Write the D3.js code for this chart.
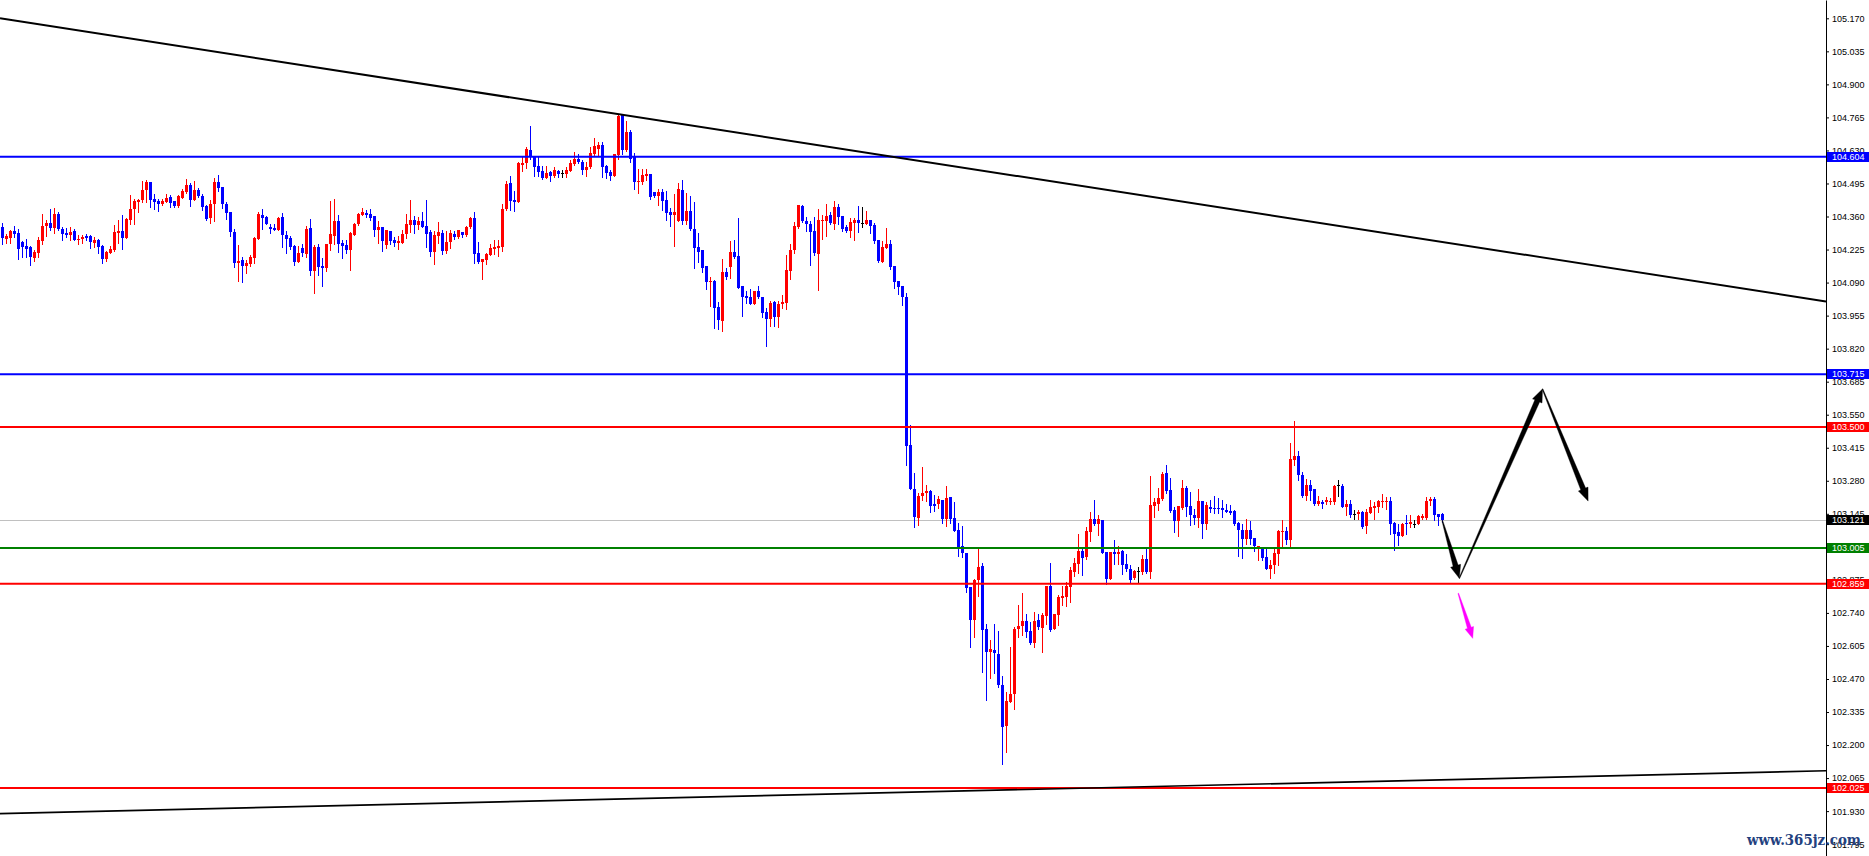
<!DOCTYPE html>
<html>
<head>
<meta charset="utf-8">
<script src="https://cdn.jsdelivr.net/npm/d3@7/dist/d3.min.js"></script>
<style>
html,body{margin:0;padding:0;background:#fff;}
svg{display:block;}
</style>
</head>
<body>
<svg id="chart" width="1869" height="856"></svg>
<script>
// ---------------- DATA ----------------
const opens = [
104.316,104.268,104.272,104.300,104.291,104.255,104.238,104.234,104.191,104.211,
104.260,104.320,104.332,104.312,104.369,104.308,104.291,104.283,104.300,104.264,
104.267,104.279,104.279,104.252,104.263,104.240,104.185,104.210,104.222,104.293,
104.300,104.272,104.345,104.390,104.420,104.426,104.467,104.500,104.430,104.422,
104.411,104.420,104.439,104.422,104.402,104.436,104.459,104.490,104.426,104.470,
104.443,104.402,104.354,104.411,104.500,104.479,104.410,104.377,104.296,104.170,
104.181,104.158,104.166,104.191,104.268,104.365,104.357,104.316,104.313,104.305,
104.357,104.286,104.272,104.240,104.173,104.230,104.208,104.312,104.138,104.236,
104.158,104.150,104.246,104.282,104.341,104.252,104.242,104.223,104.285,104.330,
104.366,104.376,104.369,104.361,104.305,104.316,104.244,104.300,104.263,104.252,
104.252,104.287,104.324,104.345,104.324,104.341,104.320,104.296,104.215,104.279,
104.291,104.219,104.256,104.287,104.276,104.296,104.285,104.316,104.353,104.211,
104.174,104.183,104.203,104.227,104.232,104.236,104.390,104.496,104.426,104.420,
104.571,104.579,104.631,104.603,104.567,104.546,104.518,104.542,104.526,104.546,
104.538,104.534,104.546,104.575,104.595,104.583,104.550,104.563,104.616,104.636,
104.652,104.567,104.542,104.526,104.612,104.775,104.632,104.706,104.603,104.501,
104.501,104.526,104.534,104.459,104.443,104.460,104.426,104.377,104.366,104.342,
104.469,104.342,104.381,104.309,104.236,104.223,104.158,104.093,104.095,103.990,
103.933,104.133,104.154,104.215,104.199,104.076,104.035,104.031,104.003,104.056,
104.031,103.970,103.941,104.011,103.950,104.003,104.007,104.139,104.223,104.316,
104.403,104.342,104.330,104.301,104.207,104.342,104.342,104.366,104.330,104.399,
104.362,104.317,104.300,104.334,104.345,104.335,104.331,104.347,104.324,104.263,
104.174,104.232,104.249,104.157,104.095,104.075,104.031,103.425,103.247,103.128,
103.219,103.232,103.238,103.185,103.185,103.200,103.124,103.215,103.128,103.078,
103.012,102.985,102.846,102.710,102.873,102.931,102.673,102.579,102.587,102.574,
102.444,102.277,102.375,102.407,102.673,102.687,102.706,102.666,102.617,102.710,
102.680,102.729,102.850,102.676,102.732,102.801,102.805,102.846,102.907,102.941,
102.993,102.969,103.071,103.124,103.104,103.119,102.988,102.877,102.988,102.981,
102.993,102.941,102.921,102.883,102.911,102.907,102.962,102.907,103.176,103.187,
103.207,103.312,103.244,103.159,103.116,103.170,103.252,103.176,103.139,103.128,
103.196,103.105,103.172,103.170,103.169,103.169,103.162,103.155,103.157,103.108,
103.078,103.042,103.078,103.046,103.010,103.010,102.969,102.920,102.936,102.982,
103.071,103.075,103.037,103.364,103.380,103.305,103.217,103.262,103.245,103.185,
103.192,103.192,103.192,103.192,103.262,103.257,103.173,103.184,103.146,103.143,
103.153,103.095,103.150,103.170,103.173,103.195,103.195,103.199,103.108,103.070,
103.054,103.108,103.102,103.105,103.105,103.129,103.129,103.196,103.206,103.143,
103.143];

const highs = [
104.334,104.290,104.304,104.320,104.308,104.259,104.267,104.238,104.225,104.276,
104.369,104.347,104.390,104.396,104.380,104.317,104.312,104.316,104.308,104.283,
104.283,104.287,104.283,104.275,104.267,104.244,104.219,104.240,104.324,104.345,
104.365,104.354,104.447,104.430,104.433,104.504,104.511,104.500,104.454,104.433,
104.433,104.450,104.447,104.422,104.447,104.474,104.515,104.496,104.504,104.475,
104.451,104.407,104.426,104.519,104.529,104.479,104.420,104.377,104.308,104.242,
104.193,104.181,104.202,104.276,104.377,104.390,104.361,104.328,104.328,104.358,
104.373,104.300,104.279,104.244,104.240,104.246,104.320,104.349,104.242,104.246,
104.189,104.249,104.422,104.430,104.365,104.263,104.263,104.296,104.334,104.376,
104.394,104.385,104.390,104.361,104.341,104.316,104.304,104.300,104.276,104.279,
104.304,104.369,104.426,104.361,104.358,104.377,104.426,104.304,104.300,104.336,
104.304,104.300,104.304,104.300,104.304,104.296,104.320,104.357,104.377,104.255,
104.187,104.211,104.248,104.264,104.264,104.410,104.504,104.524,104.463,104.583,
104.603,104.644,104.730,104.603,104.608,104.567,104.567,104.546,104.563,104.550,
104.550,104.563,104.591,104.624,104.616,104.591,104.583,104.644,104.681,104.665,
104.665,104.571,104.550,104.616,104.780,104.780,104.750,104.714,104.620,104.554,
104.554,104.554,104.534,104.460,104.473,104.471,104.464,104.395,104.451,104.496,
104.509,104.455,104.443,104.420,104.293,104.223,104.158,104.113,104.099,104.009,
104.185,104.150,104.260,104.264,104.354,104.076,104.056,104.064,104.056,104.076,
104.031,103.986,104.015,104.015,104.015,104.039,104.203,104.246,104.338,104.406,
104.407,104.358,104.342,104.358,104.391,104.366,104.411,104.379,104.422,104.411,
104.362,104.324,104.355,104.355,104.402,104.399,104.381,104.347,104.335,104.263,
104.259,104.311,104.263,104.157,104.095,104.075,104.048,103.507,103.312,103.232,
103.335,103.262,103.244,103.223,103.217,103.200,103.257,103.215,103.193,103.108,
103.094,102.985,102.846,102.880,103.001,102.944,102.696,102.628,102.694,102.666,
102.481,102.416,102.601,102.683,102.771,102.822,102.734,102.703,102.744,102.734,
102.740,102.850,102.944,102.734,102.812,102.850,102.866,102.928,102.965,103.061,
103.010,103.091,103.153,103.200,103.139,103.119,102.988,102.988,103.037,103.012,
102.996,102.982,102.935,102.914,102.928,102.976,103.001,103.298,103.211,103.252,
103.315,103.343,103.290,103.173,103.176,103.282,103.257,103.234,103.166,103.248,
103.196,103.193,103.200,103.217,103.211,103.203,103.187,103.180,103.159,103.112,
103.105,103.125,103.114,103.046,103.015,103.010,103.003,102.955,103.003,103.078,
103.121,103.091,103.435,103.525,103.402,103.315,103.289,103.282,103.245,103.217,
103.200,103.214,103.211,103.262,103.282,103.268,103.203,103.200,103.162,103.162,
103.155,103.166,103.203,103.192,103.200,103.228,103.214,103.214,103.112,103.105,
103.108,103.139,103.139,103.119,103.139,103.146,103.214,103.214,103.214,103.146,
103.149];

const lows = [
104.249,104.252,104.252,104.275,104.185,104.195,104.193,104.162,104.178,104.195,
104.246,104.279,104.304,104.293,104.304,104.266,104.278,104.266,104.264,104.246,
104.252,104.266,104.232,104.234,104.211,104.169,104.177,104.210,104.218,104.252,
104.227,104.272,104.328,104.328,104.377,104.421,104.420,104.398,104.390,104.381,
104.409,104.420,104.399,104.399,104.399,104.436,104.456,104.402,104.426,104.439,
104.385,104.345,104.334,104.342,104.463,104.396,104.351,104.281,104.154,104.095,
104.091,104.129,104.158,104.170,104.268,104.309,104.328,104.294,104.305,104.305,
104.236,104.211,104.226,104.161,104.173,104.199,104.195,104.120,104.048,104.121,
104.076,104.138,104.222,104.249,104.215,104.191,104.211,104.140,104.285,104.324,
104.365,104.358,104.345,104.281,104.252,104.219,104.230,104.248,104.238,104.227,
104.252,104.272,104.297,104.293,104.308,104.316,104.236,104.199,104.166,104.252,
104.207,104.211,104.232,104.268,104.272,104.276,104.281,104.313,104.170,104.170,
104.105,104.166,104.203,104.207,104.199,104.219,104.385,104.388,104.383,104.420,
104.546,104.559,104.595,104.526,104.526,104.514,104.518,104.505,104.522,104.522,
104.522,104.522,104.546,104.571,104.579,104.534,104.526,104.559,104.608,104.612,
104.522,104.518,104.509,104.526,104.595,104.616,104.628,104.583,104.473,104.456,
104.493,104.509,104.432,104.440,104.407,104.387,104.346,104.321,104.240,104.342,
104.330,104.330,104.305,104.150,104.174,104.133,104.064,103.995,103.905,103.900,
103.892,104.105,104.109,104.191,104.068,103.954,104.007,104.003,104.003,104.027,
103.950,103.831,103.913,103.913,103.909,103.986,103.982,104.105,104.211,104.313,
104.338,104.301,104.162,104.203,104.060,104.270,104.281,104.330,104.309,104.330,
104.301,104.296,104.276,104.263,104.296,104.317,104.328,104.293,104.252,104.174,
104.174,104.232,104.144,104.069,104.045,104.000,103.345,103.247,103.091,103.099,
103.203,103.198,103.153,103.157,103.169,103.108,103.095,103.108,103.075,102.973,
102.969,102.826,102.601,102.642,102.809,102.499,102.383,102.474,102.495,102.437,
102.124,102.172,102.375,102.349,102.642,102.649,102.642,102.615,102.601,102.676,
102.580,102.696,102.666,102.676,102.689,102.774,102.767,102.785,102.890,102.905,
102.894,102.959,103.034,103.098,103.057,102.985,102.860,102.877,102.941,102.939,
102.900,102.910,102.862,102.879,102.866,102.900,102.903,102.883,103.132,103.159,
103.203,103.232,103.153,103.071,103.053,103.166,103.135,103.098,103.105,103.091,
103.046,103.084,103.151,103.149,103.149,103.132,103.151,103.146,103.099,102.973,
102.965,103.023,103.023,102.992,102.955,102.955,102.920,102.883,102.903,102.935,
103.012,103.023,103.010,103.346,103.282,103.214,103.203,103.203,103.180,103.183,
103.168,103.184,103.187,103.187,103.217,103.173,103.139,103.132,103.124,103.124,
103.087,103.067,103.149,103.125,103.154,103.173,103.166,103.064,102.999,103.016,
103.054,103.064,103.091,103.091,103.105,103.124,103.125,103.180,103.121,103.098,
103.112];

const closes = [
104.272,104.279,104.300,104.290,104.227,104.234,104.227,104.193,104.214,104.263,
104.323,104.334,104.312,104.369,104.308,104.287,104.283,104.297,104.264,104.268,
104.276,104.271,104.256,104.263,104.236,104.185,104.214,104.226,104.296,104.300,
104.272,104.349,104.390,104.422,104.426,104.470,104.500,104.426,104.418,104.410,
104.422,104.437,104.415,104.403,104.443,104.464,104.490,104.426,104.470,104.443,
104.398,104.349,104.413,104.501,104.475,104.410,104.375,104.297,104.170,104.180,
104.158,104.170,104.195,104.272,104.369,104.354,104.330,104.309,104.305,104.353,
104.285,104.268,104.236,104.173,104.211,104.211,104.308,104.138,104.236,104.154,
104.150,104.246,104.290,104.341,104.248,104.240,104.223,104.291,104.330,104.369,
104.380,104.365,104.353,104.305,104.316,104.260,104.304,104.260,104.252,104.259,
104.287,104.328,104.345,104.324,104.341,104.316,104.287,104.214,104.283,104.296,
104.219,104.256,104.291,104.276,104.304,104.283,104.316,104.353,104.207,104.174,
104.187,104.207,104.232,104.236,104.240,104.390,104.492,104.424,104.420,104.579,
104.579,104.636,104.603,104.563,104.542,104.518,104.538,104.526,104.550,104.534,
104.538,104.550,104.579,104.595,104.583,104.550,104.563,104.620,104.648,104.652,
104.563,104.538,104.526,104.616,104.771,104.632,104.706,104.595,104.501,104.505,
104.530,104.534,104.439,104.443,104.459,104.424,104.375,104.366,104.377,104.471,
104.342,104.381,104.309,104.232,104.215,104.150,104.093,104.095,103.986,103.936,
104.133,104.113,104.215,104.195,104.068,104.031,104.027,104.003,104.056,104.031,
103.966,103.941,104.007,103.950,104.003,104.011,104.140,104.223,104.321,104.406,
104.342,104.330,104.297,104.211,104.346,104.346,104.362,104.334,104.399,104.358,
104.309,104.302,104.336,104.345,104.334,104.335,104.347,104.320,104.259,104.178,
104.236,104.246,104.154,104.093,104.072,104.031,103.422,103.247,103.132,103.219,
103.232,103.238,103.177,103.177,103.206,103.124,103.211,103.124,103.075,103.007,
102.985,102.842,102.710,102.876,102.928,102.669,102.579,102.591,102.576,102.444,
102.274,102.379,102.410,102.673,102.688,102.706,102.664,102.617,102.706,102.683,
102.732,102.850,102.672,102.734,102.805,102.808,102.850,102.914,102.944,102.993,
102.965,103.074,103.124,103.104,103.124,102.985,102.877,102.988,102.981,102.988,
102.937,102.918,102.876,102.911,102.911,102.962,102.907,103.180,103.192,103.210,
103.308,103.238,103.157,103.116,103.176,103.252,103.173,103.139,103.128,103.198,
103.102,103.180,103.165,103.165,103.165,103.162,103.153,103.149,103.102,103.078,
103.042,103.078,103.042,103.015,103.015,102.965,102.920,102.936,102.985,103.075,
103.075,103.037,103.369,103.380,103.302,103.217,103.262,103.238,103.184,103.196,
103.185,103.200,103.199,103.257,103.262,103.173,103.187,103.139,103.146,103.153,
103.091,103.153,103.173,103.176,103.198,103.199,103.199,103.105,103.064,103.053,
103.105,103.102,103.112,103.105,103.135,103.135,103.196,103.206,103.139,103.132,
103.121];

// price-axis tick labels
const tickValues = [105.170,105.035,104.900,104.765,104.630,104.495,104.360,104.225,104.090,
  103.955,103.820,103.685,103.550,103.415,103.280,103.145,103.010,102.875,102.740,102.605,
  102.470,102.335,102.200,102.065,101.930,101.795];

// horizontal price levels
const blueLevels  = [104.604, 103.715];
const redLevels   = [103.500, 102.859, 102.025];
const greenLevels = [103.005];
const currentPrice = 103.121;

// trend lines: [bar index, price]
const upperTrend = [[-0.625, 105.170], [455.875, 104.013]];
const lowerTrend = [[-0.625, 101.920], [455.875, 102.095]];

// projected path arrows: [bar index, price]
const forecastPath = [[359.95, 103.117], [364.2, 102.8815], [385.0, 103.655], [396.4, 103.197]];
const breakdownArrow = [[363.95, 102.820], [367.55, 102.636]];

const watermark = "www.365jz.com";

// ---------------- SCALES ----------------
const W = 1869, H = 856, plotRight = 1826;
const svg = d3.select("#chart");
const x = d3.scaleLinear().domain([0, 360]).range([2.5, 1442.5]);
const y = d3.scaleLinear().domain([101.7466, 105.2448]).range([H, 0]);

const candles = opens.map((o, i) => ({i, o, h: highs[i], l: lows[i], c: closes[i]}));

svg.append("defs").append("clipPath").attr("id", "plot")
  .append("rect").attr("x", 0).attr("y", 0).attr("width", plotRight).attr("height", H);

const plot = svg.append("g").attr("clip-path", "url(#plot)");

// current price line (behind candles)
plot.append("line")
  .attr("x1", 0).attr("x2", plotRight)
  .attr("y1", Math.round(y(currentPrice)) + 0.5).attr("y2", Math.round(y(currentPrice)) + 0.5)
  .attr("stroke", "#c0c0c0").attr("stroke-width", 1);

// candles
const colorOf = d => d.c > d.o ? "#ff0000" : (d.c < d.o ? "#0000ff" : "#000000");
const cg = plot.append("g").attr("shape-rendering", "crispEdges");
cg.selectAll("line.wick").data(candles).join("line")
  .attr("class", "wick")
  .attr("x1", d => x(d.i)).attr("x2", d => x(d.i))
  .attr("y1", d => Math.round(y(d.h))).attr("y2", d => Math.round(y(d.l)) + 1)
  .attr("stroke", colorOf).attr("stroke-width", 1);
cg.selectAll("rect.body").data(candles).join("rect")
  .attr("class", "body")
  .attr("x", d => x(d.i) - 1.5)
  .attr("width", 3)
  .attr("y", d => Math.round(y(Math.max(d.o, d.c))))
  .attr("height", d => Math.max(1, Math.round(y(Math.min(d.o, d.c))) - Math.round(y(Math.max(d.o, d.c)))))
  .attr("fill", colorOf);

// horizontal levels
function hLines(values, color) {
  plot.append("g").selectAll("line").data(values).join("line")
    .attr("x1", 0).attr("x2", plotRight)
    .attr("y1", d => y(d)).attr("y2", d => y(d))
    .attr("stroke", color).attr("stroke-width", 2);
}
hLines(blueLevels, "#0000ff");
hLines(redLevels, "#ff0000");
hLines(greenLevels, "#008000");

// trend lines
const lineGen = d3.line().x(d => x(d[0])).y(d => y(d[1]));
plot.append("path").attr("d", lineGen(upperTrend)).attr("fill", "none")
  .attr("stroke", "#000").attr("stroke-width", 2);
plot.append("path").attr("d", lineGen(lowerTrend)).attr("fill", "none")
  .attr("stroke", "#000").attr("stroke-width", 1.7);

// tapered arrows
function arrow(p0, p1, color, w0, w1, headLen, headHalf) {
  const x0 = x(p0[0]), y0 = y(p0[1]), x1 = x(p1[0]), y1 = y(p1[1]);
  const dx = x1 - x0, dy = y1 - y0, L = Math.hypot(dx, dy);
  const ux = dx / L, uy = dy / L, nx = -uy, ny = ux;
  const bx = x1 - ux * headLen, by = y1 - uy * headLen;
  const pts = [
    [x0 + nx * w0, y0 + ny * w0],
    [bx + nx * w1, by + ny * w1],
    [bx + nx * headHalf, by + ny * headHalf],
    [x1, y1],
    [bx - nx * headHalf, by - ny * headHalf],
    [bx - nx * w1, by - ny * w1],
    [x0 - nx * w0, y0 - ny * w0]
  ];
  plot.append("path").attr("d", "M" + pts.map(p => p.join(",")).join("L") + "Z")
    .attr("fill", color).attr("stroke", color).attr("stroke-width", 0.4);
}
for (let k = 0; k < forecastPath.length - 1; k++) {
  arrow(forecastPath[k], forecastPath[k + 1], "#000000", 0.4, 2.6, 13, 5.2);
}
arrow(breakdownArrow[0], breakdownArrow[1], "#ff00ff", 0.35, 2.0, 11, 4.4);

// ---------------- PRICE AXIS ----------------
const axis = d3.axisRight(y).tickValues(tickValues).tickSize(3).tickSizeOuter(0)
  .tickFormat(d3.format(".3f"));
const ag = svg.append("g").attr("transform", `translate(${plotRight},0)`).call(axis);
ag.select(".domain").attr("stroke", "#000");
ag.selectAll(".tick line").attr("stroke", "#000");
ag.selectAll("text").attr("font-family", "'Liberation Sans', Arial, sans-serif")
  .attr("font-size", 9).attr("fill", "#000");

// highlighted price labels
function priceTag(v, bg) {
  const g = svg.append("g");
  const cy = y(v);
  g.append("rect").attr("x", plotRight + 1).attr("y", cy - 5).attr("width", W - plotRight - 1).attr("height", 10)
    .attr("fill", bg).attr("shape-rendering", "crispEdges");
  g.append("text").attr("x", plotRight + 6).attr("y", cy).attr("dy", "0.34em")
    .attr("font-family", "'Liberation Sans', Arial, sans-serif").attr("font-size", 9)
    .attr("fill", "#fff").text(d3.format(".3f")(v));
}
blueLevels.forEach(v => priceTag(v, "#0000ff"));
redLevels.forEach(v => priceTag(v, "#ff0000"));
greenLevels.forEach(v => priceTag(v, "#008000"));
priceTag(currentPrice, "#000000");

// watermark
svg.append("text").attr("x", 1747).attr("y", 845)
  .attr("font-family", "'DejaVu Serif', serif").attr("font-weight", "bold").attr("font-size", 15)
  .attr("textLength", 114).attr("lengthAdjust", "spacingAndGlyphs")
  .attr("fill", "#23417e").text(watermark);
</script>
</body>
</html>
